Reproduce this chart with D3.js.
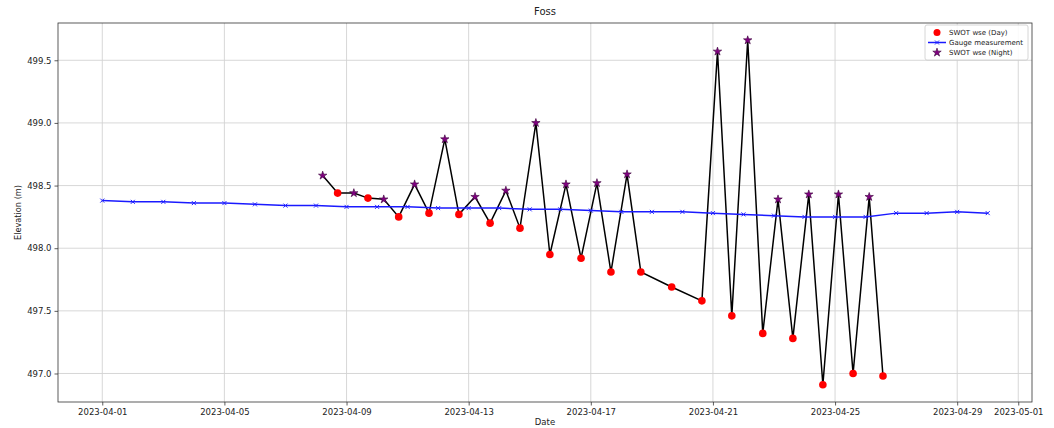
<!DOCTYPE html>
<html>
<head>
<meta charset="utf-8">
<script src="https://cdn.jsdelivr.net/npm/d3@7"></script>
<style>
  body { margin: 0; background: #fff; }
  svg { font-family: "DejaVu Sans", sans-serif; }
</style>
</head>
<body>
<svg id="chart" width="1054" height="428"></svg>
<script>
// ---- Data ----
const gaugeDates = ["2023-04-01","2023-04-02","2023-04-03","2023-04-04","2023-04-05","2023-04-06","2023-04-07","2023-04-08","2023-04-09","2023-04-10","2023-04-11","2023-04-12","2023-04-13","2023-04-14","2023-04-15","2023-04-16","2023-04-17","2023-04-18","2023-04-19","2023-04-20","2023-04-21","2023-04-22","2023-04-23","2023-04-24","2023-04-25","2023-04-26","2023-04-27","2023-04-28","2023-04-29","2023-04-30"];
const gaugeValues = [498.38,498.37,498.37,498.36,498.36,498.35,498.34,498.34,498.33,498.33,498.33,498.32,498.32,498.32,498.31,498.31,498.30,498.29,498.29,498.29,498.28,498.27,498.26,498.25,498.25,498.25,498.28,498.28,498.29,498.28];

const dayDates = ["2023-04-08T17:00","2023-04-09T16:50","2023-04-10T17:00","2023-04-11T16:50","2023-04-12T16:20","2023-04-13T16:50","2023-04-14T16:20","2023-04-15T15:50","2023-04-16T16:20","2023-04-17T15:50","2023-04-18T15:20","2023-04-19T15:35","2023-04-20T15:20","2023-04-21T14:50","2023-04-22T15:10","2023-04-23T14:50","2023-04-24T14:25","2023-04-25T14:10","2023-04-26T13:40"];
const dayValues = [498.44,498.40,498.25,498.28,498.27,498.20,498.16,497.95,497.92,497.81,497.81,497.69,497.58,497.46,497.32,497.28,496.91,497.00,496.98];

const nightDates = ["2023-04-08T05:15","2023-04-09T05:45","2023-04-10T05:15","2023-04-11T05:30","2023-04-12T05:15","2023-04-13T05:00","2023-04-14T05:15","2023-04-15T04:50","2023-04-16T04:30","2023-04-17T04:50","2023-04-18T04:30","2023-04-21T03:35","2023-04-22T03:20","2023-04-23T03:10","2023-04-24T03:20","2023-04-25T02:40","2023-04-26T02:50"];
const nightValues = [498.58,498.44,498.39,498.51,498.87,498.41,498.46,499.00,498.51,498.52,498.59,499.57,499.66,498.39,498.43,498.43,498.41];

const yTicks = [497.0, 497.5, 498.0, 498.5, 499.0, 499.5];
const xTickLabels = ["2023-04-01","2023-04-05","2023-04-09","2023-04-13","2023-04-17","2023-04-21","2023-04-25","2023-04-29","2023-05-01"];

const titleText = "Foss";
const xLabel = "Date";
const yLabel = "Elevation (m)";
const legendLabels = ["SWOT wse (Day)", "Gauge measurement", "SWOT wse (Night)"];

// ---- Layout ----
const parse = d3.isoParse;
const svg = d3.select("#chart");
const m = {left: 58, top: 23, right: 1054 - 1032, bottom: 428 - 402};
const W = 1054 - m.left - m.right, H = 428 - m.top - m.bottom;
const g = svg.append("g").attr("transform", `translate(${m.left},${m.top})`);

const gauge = gaugeDates.map((d, i) => ({t: parse(d), v: gaugeValues[i]}));
const day = dayDates.map((d, i) => ({t: parse(d), v: dayValues[i], k: "day"}));
const night = nightDates.map((d, i) => ({t: parse(d), v: nightValues[i], k: "night"}));
const swot = day.concat(night).sort((a, b) => a.t - b.t);

// matplotlib-like 5% margins
const allT = gauge.map(d => d.t).concat(swot.map(d => d.t));
const allV = gauge.map(d => d.v).concat(swot.map(d => d.v));
const tExt = d3.extent(allT), vExt = d3.extent(allV);
const tPad = (tExt[1] - tExt[0]) * 0.05, vPad = (vExt[1] - vExt[0]) * 0.05;
const x = d3.scaleTime().domain([new Date(+tExt[0] - tPad), new Date(+tExt[1] + tPad)]).range([0, W]);
const y = d3.scaleLinear().domain([vExt[0] - vPad, vExt[1] + vPad]).range([H, 0]);

const xTickDates = xTickLabels.map(parse);

// grid
g.append("g").selectAll("line").data(xTickDates).join("line")
  .attr("x1", d => x(d)).attr("x2", d => x(d)).attr("y1", 0).attr("y2", H)
  .attr("stroke", "#d3d3d3").attr("stroke-width", 0.9);
g.append("g").selectAll("line").data(yTicks).join("line")
  .attr("y1", d => y(d)).attr("y2", d => y(d)).attr("x1", 0).attr("x2", W)
  .attr("stroke", "#d3d3d3").attr("stroke-width", 0.9);

// axes
const xAxis = d3.axisBottom(x).tickValues(xTickDates).tickFormat(d3.timeFormat("%Y-%m-%d")).tickSizeOuter(0).tickSize(3.5).tickPadding(3);
const yAxis = d3.axisLeft(y).tickValues(yTicks).tickFormat(d3.format(".1f")).tickSizeOuter(0).tickSize(3.5).tickPadding(3);
const gx = g.append("g").attr("transform", `translate(0,${H})`).call(xAxis);
const gy = g.append("g").call(yAxis);
[gx, gy].forEach(a => {
  a.select(".domain").remove();
  a.selectAll("text").attr("font-size", 8.5).attr("fill", "#222").attr("font-family", "DejaVu Sans");
  a.selectAll("line").attr("stroke", "#333").attr("stroke-width", 0.8);
});

// frame
g.append("rect").attr("width", W).attr("height", H).attr("fill", "none").attr("stroke", "#333").attr("stroke-width", 0.8);

// SWOT black connecting line
g.append("path").datum(swot)
  .attr("d", d3.line().x(d => x(d.t)).y(d => y(d.v)))
  .attr("fill", "none").attr("stroke", "#000").attr("stroke-width", 1.5);

// Gauge line
g.append("path").datum(gauge)
  .attr("d", d3.line().x(d => x(d.t)).y(d => y(d.v)))
  .attr("fill", "none").attr("stroke", "#1a1aff").attr("stroke-width", 1.5);
const xs = 2;
const xMark = (px, py) => `M${px - xs},${py - xs}L${px + xs},${py + xs}M${px - xs},${py + xs}L${px + xs},${py - xs}`;
g.append("g").selectAll("path").data(gauge).join("path")
  .attr("d", d => xMark(x(d.t), y(d.v)))
  .attr("stroke", "#2020ff").attr("stroke-width", 1).attr("fill", "none");

// Day markers
g.append("g").selectAll("circle").data(day).join("circle")
  .attr("cx", d => x(d.t)).attr("cy", d => y(d.v)).attr("r", 3.8)
  .attr("fill", "#ff0000");

// Night star markers
const star = d3.symbol().type(d3.symbolStar).size(22);
g.append("g").selectAll("path").data(night).join("path")
  .attr("transform", d => `translate(${x(d.t)},${y(d.v)})`)
  .attr("d", star).attr("fill", "#800080").attr("stroke", "#3a003a").attr("stroke-width", 0.6);

// title and labels
svg.append("text").attr("x", m.left + W / 2).attr("y", 15).attr("text-anchor", "middle")
  .attr("font-size", 10).attr("fill", "#222").text(titleText);
svg.append("text").attr("x", m.left + W / 2).attr("y", 425).attr("text-anchor", "middle")
  .attr("font-size", 8.5).attr("fill", "#222").text(xLabel);
svg.append("text").attr("transform", `translate(21,${m.top + H / 2}) rotate(-90)`).attr("text-anchor", "middle")
  .attr("font-size", 8.2).attr("fill", "#222").text(yLabel);

// legend
const lg = svg.append("g").attr("transform", "translate(925,25)");
lg.append("rect").attr("width", 103).attr("height", 35).attr("rx", 2)
  .attr("fill", "#fff").attr("fill-opacity", 0.85).attr("stroke", "#ccc").attr("stroke-width", 0.8);
const rows = [7.5, 17.5, 27.5];
lg.append("circle").attr("cx", 12).attr("cy", rows[0]).attr("r", 3.5).attr("fill", "#ff0000");
lg.append("line").attr("x1", 3).attr("x2", 21).attr("y1", rows[1]).attr("y2", rows[1]).attr("stroke", "#1a1aff").attr("stroke-width", 1.5);
lg.append("path").attr("d", xMark(12, rows[1])).attr("stroke", "#2020ff").attr("stroke-width", 1);
lg.append("path").attr("transform", `translate(12,${rows[2]})`).attr("d", star).attr("fill", "#800080").attr("stroke", "#3a003a").attr("stroke-width", 0.6);
lg.selectAll("text.l").data(legendLabels).join("text").attr("class", "l")
  .attr("x", 24).attr("y", (d, i) => rows[i] + 2.5).attr("font-size", 7).attr("fill", "#222").text(d => d);
</script>
</body>
</html>
